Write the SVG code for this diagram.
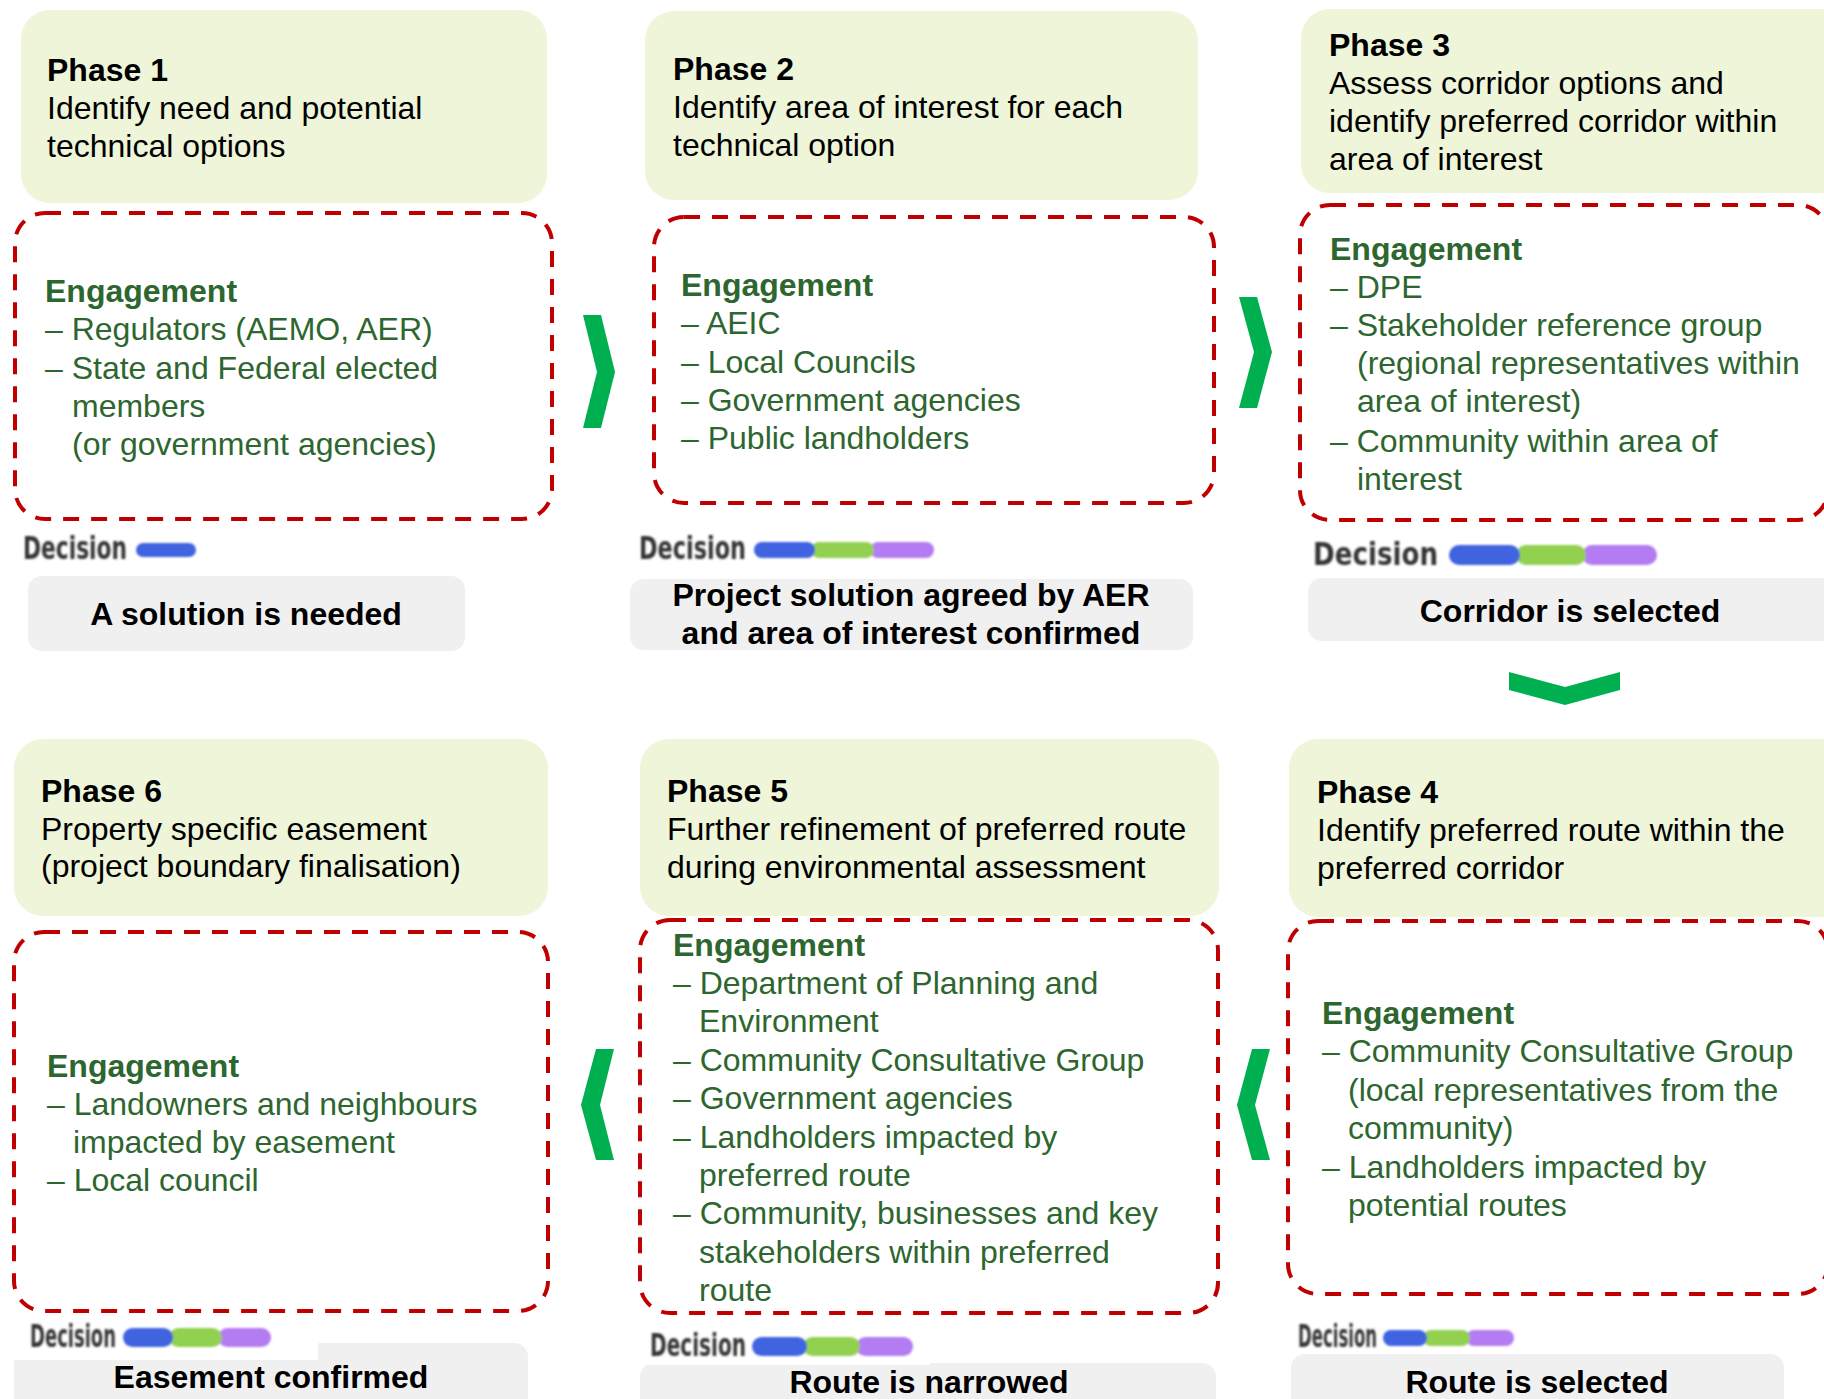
<svg xmlns="http://www.w3.org/2000/svg" width="1824" height="1399" viewBox="0 0 1824 1399">
  <defs>
    <style>
      .phase { fill: #EEF5D9; }
      .engage { fill: #FFFFFF; stroke: #C00000; stroke-width: 4; stroke-dasharray: 16 12; }
      .outcome { fill: #F0F0F0; }
      .badge-bg { fill: #FFFFFF; }
      text { font-family: "Liberation Sans", Arial, sans-serif; font-size: 32px; }
      .title { fill: #000000; font-weight: bold; }
      .desc { fill: #000000; }
      .eng-h { fill: #2D662E; font-weight: bold; }
      .eng { fill: #2D662E; }
      .result { fill: #000000; font-weight: bold; text-anchor: middle; }
      .dec { font-family: "DejaVu Sans", "Liberation Sans", sans-serif; font-weight: bold; fill: #363636; }
      .pill-b { fill: #4163E0; }
      .pill-g { fill: #92D050; }
      .pill-p { fill: #B47CF2; }
      .chev { fill: #00B050; }
    </style>
    <filter id="soft" x="-5%" y="-30%" width="110%" height="160%">
      <feGaussianBlur stdDeviation="0.8"/>
    </filter>
  </defs>

  <rect width="1824" height="1399" fill="#FFFFFF"/>

  <!-- Phase 1 -->
  <g id="phase1">
    <rect class="phase" x="21" y="10" width="526" height="193" rx="29"/>
    <text class="title" x="47" y="81">Phase 1</text>
    <text class="desc" x="47" y="119">Identify need and potential</text>
    <text class="desc" x="47" y="157">technical options</text>
    <rect class="engage" x="15" y="213" width="537" height="306" rx="30"/>
    <text class="eng-h" x="45" y="302">Engagement</text>
    <text class="eng" x="45" y="340">– Regulators (AEMO, AER)</text>
    <text class="eng" x="45" y="379">– State and Federal elected</text>
    <text class="eng" x="72" y="417">members</text>
    <text class="eng" x="72" y="455">(or government agencies)</text>
    <g id="phase1-decision" filter="url(#soft)">
      <text class="dec" x="23" y="559" font-size="18.5" textLength="104" lengthAdjust="spacingAndGlyphs">Decision</text>
      <rect class="pill-b" x="136" y="543" width="60" height="14" rx="7"/>
    </g>
    <rect class="outcome" x="28" y="576" width="437" height="75" rx="14"/>
    <text class="result" x="246" y="625">A solution is needed</text>
  </g>

  <!-- Phase 2 -->
  <g id="phase2">
    <rect class="phase" x="645" y="11" width="553" height="189" rx="29"/>
    <text class="title" x="673" y="80">Phase 2</text>
    <text class="desc" x="673" y="118">Identify area of interest for each</text>
    <text class="desc" x="673" y="156">technical option</text>
    <rect class="engage" x="654" y="217" width="560" height="286" rx="30"/>
    <text class="eng-h" x="681" y="296">Engagement</text>
    <text class="eng" x="681" y="334">– AEIC</text>
    <text class="eng" x="681" y="373">– Local Councils</text>
    <text class="eng" x="681" y="411">– Government agencies</text>
    <text class="eng" x="681" y="449">– Public landholders</text>
    <g id="phase2-decision" filter="url(#soft)">
      <text class="dec" x="639" y="559" font-size="18.5" textLength="107" lengthAdjust="spacingAndGlyphs">Decision</text>
      <rect class="pill-p" x="870" y="542" width="64" height="16" rx="8"/>
      <rect class="pill-g" x="811" y="542" width="63" height="16" rx="8"/>
      <rect class="pill-b" x="754" y="542" width="61" height="16" rx="8"/>
    </g>
    <rect class="outcome" x="630" y="579" width="563" height="71" rx="14"/>
    <text class="result" x="911" y="606">Project solution agreed by AER</text>
    <text class="result" x="911" y="644">and area of interest confirmed</text>
  </g>

  <!-- Phase 3 -->
  <g id="phase3">
    <rect class="phase" x="1301" y="9" width="560" height="184" rx="29"/>
    <text class="title" x="1329" y="56">Phase 3</text>
    <text class="desc" x="1329" y="94">Assess corridor options and</text>
    <text class="desc" x="1329" y="132">identify preferred corridor within</text>
    <text class="desc" x="1329" y="170">area of interest</text>
    <rect class="engage" x="1300" y="205" width="528" height="315" rx="30"/>
    <text class="eng-h" x="1330" y="260">Engagement</text>
    <text class="eng" x="1330" y="298">– DPE</text>
    <text class="eng" x="1330" y="336">– Stakeholder reference group</text>
    <text class="eng" x="1357" y="374">(regional representatives within</text>
    <text class="eng" x="1357" y="412">area of interest)</text>
    <text class="eng" x="1330" y="452">– Community within area of</text>
    <text class="eng" x="1357" y="490">interest</text>
    <g id="phase3-decision" filter="url(#soft)">
      <text class="dec" x="1313" y="565" font-size="21.5" textLength="125" lengthAdjust="spacingAndGlyphs">Decision</text>
      <rect class="pill-p" x="1582" y="545" width="75" height="20" rx="10"/>
      <rect class="pill-g" x="1516" y="545" width="70" height="20" rx="10"/>
      <rect class="pill-b" x="1449" y="545" width="71" height="20" rx="10"/>
    </g>
    <rect class="outcome" x="1308" y="578" width="560" height="63" rx="14"/>
    <text class="result" x="1570" y="622">Corridor is selected</text>
  </g>

  <!-- Phase 4 -->
  <g id="phase4">
    <rect class="phase" x="1289" y="739" width="570" height="178" rx="29"/>
    <text class="title" x="1317" y="803">Phase 4</text>
    <text class="desc" x="1317" y="841">Identify preferred route within the</text>
    <text class="desc" x="1317" y="879">preferred corridor</text>
    <rect class="engage" x="1288" y="921" width="540" height="373" rx="30"/>
    <text class="eng-h" x="1322" y="1024">Engagement</text>
    <text class="eng" x="1322" y="1062">– Community Consultative Group</text>
    <text class="eng" x="1348" y="1101">(local representatives from the</text>
    <text class="eng" x="1348" y="1139">community)</text>
    <text class="eng" x="1322" y="1178">– Landholders impacted by</text>
    <text class="eng" x="1348" y="1216">potential routes</text>
    <rect class="outcome" x="1291" y="1354" width="493" height="70" rx="14"/>
    <g id="phase4-decision" filter="url(#soft)">
      <text class="dec" x="1298" y="1347" font-size="17.5" textLength="79" lengthAdjust="spacingAndGlyphs">Decision</text>
      <rect class="pill-p" x="1466" y="1330" width="48" height="16" rx="8"/>
      <rect class="pill-g" x="1423" y="1330" width="47" height="16" rx="8"/>
      <rect class="pill-b" x="1383" y="1330" width="44" height="16" rx="8"/>
    </g>
    <text class="result" x="1537" y="1393">Route is selected</text>
  </g>

  <!-- Phase 5 -->
  <g id="phase5">
    <rect class="phase" x="640" y="739" width="579" height="177" rx="29"/>
    <text class="title" x="667" y="802">Phase 5</text>
    <text class="desc" x="667" y="840">Further refinement of preferred route</text>
    <text class="desc" x="667" y="878">during environmental assessment</text>
    <rect class="engage" x="640" y="920" width="578" height="393" rx="30"/>
    <text class="eng-h" x="673" y="956">Engagement</text>
    <text class="eng" x="673" y="994">– Department of Planning and</text>
    <text class="eng" x="699" y="1032">Environment</text>
    <text class="eng" x="673" y="1071">– Community Consultative Group</text>
    <text class="eng" x="673" y="1109">– Government agencies</text>
    <text class="eng" x="673" y="1148">– Landholders impacted by</text>
    <text class="eng" x="699" y="1186">preferred route</text>
    <text class="eng" x="673" y="1224">– Community, businesses and key</text>
    <text class="eng" x="699" y="1263">stakeholders within preferred</text>
    <text class="eng" x="699" y="1301">route</text>
    <rect class="outcome" x="640" y="1363" width="576" height="60" rx="14"/>
    <rect class="badge-bg" x="639" y="1322" width="291" height="43"/>
    <g id="phase5-decision" filter="url(#soft)">
      <text class="dec" x="650" y="1356" font-size="18.5" textLength="96" lengthAdjust="spacingAndGlyphs">Decision</text>
      <rect class="pill-p" x="856" y="1337" width="57" height="19" rx="9.5"/>
      <rect class="pill-g" x="803" y="1337" width="57" height="19" rx="9.5"/>
      <rect class="pill-b" x="752" y="1337" width="55" height="19" rx="9.5"/>
    </g>
    <text class="result" x="929" y="1393">Route is narrowed</text>
  </g>

  <!-- Phase 6 -->
  <g id="phase6">
    <rect class="phase" x="14" y="739" width="534" height="177" rx="29"/>
    <text class="title" x="41" y="802">Phase 6</text>
    <text class="desc" x="41" y="840">Property specific easement</text>
    <text class="desc" x="41" y="877">(project boundary finalisation)</text>
    <rect class="engage" x="14" y="932" width="534" height="379" rx="30"/>
    <text class="eng-h" x="47" y="1077">Engagement</text>
    <text class="eng" x="47" y="1115">– Landowners and neighbours</text>
    <text class="eng" x="73" y="1153">impacted by easement</text>
    <text class="eng" x="47" y="1191">– Local council</text>
    <rect class="outcome" x="14" y="1343" width="514" height="80" rx="14"/>
    <rect class="badge-bg" x="12" y="1320" width="306" height="40"/>
    <g id="phase6-decision" filter="url(#soft)">
      <text class="dec" x="30" y="1347" font-size="19" textLength="86" lengthAdjust="spacingAndGlyphs" fill="#2C3550">Decision</text>
      <rect class="pill-p" x="218" y="1328" width="53" height="19" rx="9.5"/>
      <rect class="pill-g" x="169" y="1328" width="53" height="19" rx="9.5"/>
      <rect class="pill-b" x="123" y="1328" width="50" height="19" rx="9.5"/>
    </g>
    <text class="result" x="271" y="1388">Easement confirmed</text>
  </g>

  <!-- Flow chevrons between phases -->
  <g id="connectors">
    <polygon class="chev" points="583,315 601,315 615,372 601,428 583,428 597,372"/>
    <polygon class="chev" points="1239,297 1257,297 1272,352 1257,408 1239,408 1254,352"/>
    <polygon class="chev" points="1509,672 1565,687 1620,672 1620,690 1565,705 1509,690"/>
    <polygon class="chev" points="1270,1049 1252,1049 1237,1105 1252,1160 1270,1160 1255,1105"/>
    <polygon class="chev" points="614,1049 596,1049 581,1105 596,1160 614,1160 600,1105"/>
  </g>
</svg>
